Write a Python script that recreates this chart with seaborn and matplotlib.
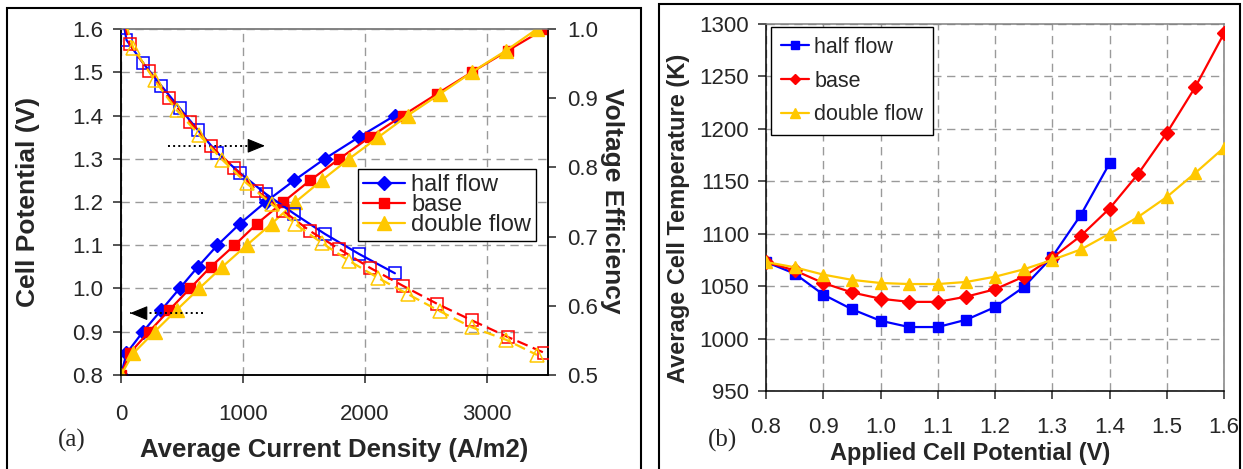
import matplotlib
matplotlib.use("Agg")
import matplotlib.pyplot as plt
from matplotlib.patches import Rectangle
import seaborn as sns
import pandas as pd

# ---------------- data ----------------
# Panel (a): cell potential (left axis) and voltage efficiency (right axis) vs current density
current_half = [0, 45, 180, 330, 480, 630, 790, 975, 1185, 1420, 1670, 1950, 2245]
potential_half = [0.80, 0.85, 0.90, 0.95, 1.00, 1.05, 1.10, 1.15, 1.20, 1.25, 1.30, 1.35, 1.40]
eff_half = [1.03, 0.984, 0.951, 0.918, 0.886, 0.854, 0.821, 0.792, 0.762, 0.733, 0.704, 0.675, 0.647]

current_base = [0, 70, 230, 395, 565, 735, 930, 1115, 1330, 1550, 1790, 2040, 2310, 2590, 2875, 3170, 3470]
potential_base = [0.80, 0.85, 0.90, 0.95, 1.00, 1.05, 1.10, 1.15, 1.20, 1.25, 1.30, 1.35, 1.40, 1.45, 1.50, 1.55, 1.60]
eff_base = [1.03, 0.978, 0.939, 0.900, 0.866, 0.831, 0.799, 0.766, 0.737, 0.708, 0.682, 0.655, 0.629, 0.603, 0.579, 0.555, 0.532]

current_double = [0, 100, 275, 455, 640, 830, 1030, 1235, 1430, 1645, 1870, 2110, 2350, 2615, 2875, 3155, 3410]
potential_double = [0.80, 0.85, 0.90, 0.95, 1.00, 1.05, 1.10, 1.15, 1.20, 1.25, 1.30, 1.35, 1.40, 1.45, 1.50, 1.55, 1.60]
eff_double = [1.03, 0.973, 0.926, 0.883, 0.847, 0.811, 0.777, 0.747, 0.718, 0.691, 0.665, 0.640, 0.617, 0.592, 0.569, 0.551, 0.529]

# Panel (b): average cell temperature vs applied cell potential
applied_half = [0.80, 0.85, 0.90, 0.95, 1.00, 1.05, 1.10, 1.15, 1.20, 1.25, 1.30, 1.35, 1.40]
temp_half = [1073, 1062, 1042, 1028, 1017, 1011, 1011, 1018, 1030, 1049, 1078, 1118, 1167]
applied_full = [0.80, 0.85, 0.90, 0.95, 1.00, 1.05, 1.10, 1.15, 1.20, 1.25, 1.30, 1.35, 1.40, 1.45, 1.50, 1.55, 1.60]
temp_base = [1073, 1065, 1053, 1044, 1038, 1035, 1035, 1040, 1047, 1059, 1077, 1098, 1124, 1157, 1196, 1240, 1291]
temp_double = [1073, 1068, 1061, 1056, 1053, 1052, 1052, 1054, 1059, 1066, 1075, 1085, 1100, 1116, 1135, 1158, 1182]

series_names = ["half flow", "base", "double flow"]
colors = ["#0000FF", "#FF0000", "#FFC800"]

# ---------------- style ----------------
sns.set_style("white")
plt.rcParams["font.family"] = ["Liberation Sans", "DejaVu Sans"]
plt.rcParams["axes.linewidth"] = 1.1

W, H = 1243, 469
fig = plt.figure(figsize=(W / 100, H / 100), dpi=100)


def fig_rect(l, t, r, b):
    return [l / W, 1 - b / H, (r - l) / W, (b - t) / H]


axA = fig.add_axes(fig_rect(121, 29, 548, 375))
axA2 = axA.twinx()
axB = fig.add_axes(fig_rect(766, 24, 1224, 391))

grid_kw = dict(color="#9a9a9a", linestyle=(0, (6, 4)), linewidth=1.0)
TICK_FS = 16

# ---------------- panel (a) ----------------
left_sets = [(current_half, potential_half, eff_half, "D", 7.5),
             (current_base, potential_base, eff_base, "s", 7.0),
             (current_double, potential_double, eff_double, "^", 9.5)]
eff_markers = ["s", "s", "^"]
eff_ms = [8.5, 8.5, 9.5]
eff_ls = ["-", (0, (5, 2.5)), (0, (5, 2.5))]

handles = []
for i, (cx, pv, ev, mk, ms) in enumerate(left_sets):
    df = pd.DataFrame({"current": cx, "potential": pv, "eff": ev})
    sns.lineplot(data=df, x="current", y="potential", ax=axA, sort=False, estimator=None,
                 color=colors[i], marker=mk, markersize=ms, markeredgecolor=colors[i],
                 markerfacecolor=colors[i], markeredgewidth=1, linewidth=1.6, zorder=3)
    handles.append(axA.lines[-1])
for i, (cx, pv, ev, mk, ms) in enumerate(left_sets):
    df = pd.DataFrame({"current": cx, "eff": ev})
    sns.lineplot(data=df, x="current", y="eff", ax=axA2, sort=False, estimator=None,
                 color=colors[i], marker=eff_markers[i], markersize=eff_ms[i],
                 markeredgecolor=colors[i], markerfacecolor="none", markeredgewidth=1.1,
                 linewidth=1.6, linestyle=eff_ls[i], zorder=3)

axA.set_xlim(0, 3500)
axA.set_ylim(0.8, 1.6)
axA2.set_ylim(0.5, 1.0)
axA.set_xticks([0, 1000, 2000, 3000])
axA.set_yticks([0.8, 0.9, 1.0, 1.1, 1.2, 1.3, 1.4, 1.5, 1.6])
axA.set_yticklabels([f"{v:.1f}" for v in axA.get_yticks()])
axA2.set_yticks([0.5, 0.6, 0.7, 0.8, 0.9, 1.0])
axA2.set_yticklabels([f"{v:.1f}" for v in axA2.get_yticks()])
axA.grid(True, **grid_kw)
axA.set_axisbelow(True)
axA.set_xlabel("")
axA.set_ylabel("")
axA2.set_ylabel("")
axA.tick_params(axis="y", direction="out", length=6, width=1.1, pad=7, labelsize=TICK_FS, left=True)
axA.tick_params(axis="x", direction="out", length=6, width=1.1, pad=15, labelsize=TICK_FS, bottom=True)
axA2.tick_params(axis="y", direction="out", length=6, width=1.1, pad=8, labelsize=TICK_FS, right=True)
for ax in (axA, axA2):
    ax.spines["top"].set_color("#808080")
    ax.spines["left"].set_color("black")
    ax.spines["bottom"].set_color("black")
    ax.spines["right"].set_color("black")

legA = axA2.legend(handles, series_names, loc="upper left", bbox_to_anchor=(0.555, 0.595),
                   fontsize=17, frameon=True, fancybox=False, edgecolor="black",
                   framealpha=1, labelspacing=-0.08, handlelength=1.8, handletextpad=0.25,
                   borderpad=0.2, borderaxespad=0)
legA.get_frame().set_linewidth(1.0)

# dotted arrows indicating which axis each family of curves uses
arrow_right = ((385, 1.330), (1180, 1.330))
arrow_left = ((672, 0.943), (74, 0.943))
for (x0, y0), (x1, y1) in (arrow_right, arrow_left):
    axA.plot([x0, x1], [y0, y1], color="black", linestyle=":", linewidth=1.4, zorder=4)
    axA.annotate("", xy=(x1, y1), xytext=(x1 - (x1 - x0) * 0.12, y1),
                 arrowprops=dict(arrowstyle="-|>,head_length=1.1,head_width=0.45",
                                 color="black", lw=0.8, shrinkA=0, shrinkB=0), zorder=5)

fig.text(28 / W, 1 - 202 / H, "Cell Potential (V)", rotation=90, ha="center", va="center",
         fontsize=19, fontweight="bold")
fig.text(612 / W, 1 - 201 / H, "Voltage Efficiency", rotation=270, ha="center", va="center",
         fontsize=19, fontweight="bold")
fig.text(334 / W, 1 - 457 / H, "Average Current Density (A/m2)", ha="center", va="baseline",
         fontsize=18.5, fontweight="bold")
fig.text(58 / W, 1 - 447 / H, "(a)", ha="left", va="baseline", fontsize=18,
         family=["Liberation Serif", "DejaVu Serif"])

# ---------------- panel (b) ----------------
right_sets = [(applied_half, temp_half, "s", 7.0),
              (applied_full, temp_base, "D", 7.0),
              (applied_full, temp_double, "^", 9.0)]
for i, (xv, tv, mk, ms) in enumerate(right_sets):
    df = pd.DataFrame({"potential": xv, "temperature": tv})
    sns.lineplot(data=df, x="potential", y="temperature", ax=axB, sort=False, estimator=None,
                 color=colors[i], marker=mk, markersize=ms, markeredgecolor=colors[i],
                 markerfacecolor=colors[i], markeredgewidth=1, linewidth=1.6,
                 label=series_names[i], zorder=3)

axB.set_xlim(0.8, 1.6)
axB.set_ylim(950, 1300)
axB.set_xticks([0.8, 0.9, 1.0, 1.1, 1.2, 1.3, 1.4, 1.5, 1.6])
axB.set_xticklabels([f"{v:.1f}" for v in axB.get_xticks()])
axB.set_yticks([950, 1000, 1050, 1100, 1150, 1200, 1250, 1300])
axB.grid(True, **grid_kw)
axB.set_axisbelow(True)
axB.set_xlabel("")
axB.set_ylabel("")
axB.tick_params(axis="y", direction="out", length=6, width=1.1, pad=6, labelsize=TICK_FS, left=True)
axB.tick_params(axis="x", direction="out", length=6, width=1.1, pad=13, labelsize=TICK_FS, bottom=True)
axB.spines["top"].set_color("#808080")
axB.spines["right"].set_color("#808080")
axB.spines["left"].set_color("black")
axB.spines["bottom"].set_color("black")

legB = axB.legend(loc="upper left", bbox_to_anchor=(0.011, 0.992), fontsize=15.5,
                  frameon=True, fancybox=False, edgecolor="black", framealpha=1,
                  labelspacing=0.6, handlelength=1.3, handletextpad=0.25, borderpad=0.45,
                  borderaxespad=0, markerscale=0.8)
legB.get_frame().set_linewidth(1.0)

fig.text(678 / W, 1 - 218 / H, "Average Cell Temperature (K)", rotation=90, ha="center",
         va="center", fontsize=17, fontweight="bold")
fig.text(970 / W, 1 - 460 / H, "Applied Cell Potential (V)", ha="center", va="baseline",
         fontsize=17, fontweight="bold")
fig.text(708 / W, 1 - 447 / H, "(b)", ha="left", va="baseline", fontsize=18,
         family=["Liberation Serif", "DejaVu Serif"])

# panel frames
fig.add_artist(Rectangle((7 / W, -0.05), (641 - 7) / W, 1.05 - 8 / H, transform=fig.transFigure,
                         fill=False, edgecolor="black", linewidth=1.5))
fig.add_artist(Rectangle((659 / W, -0.05), (1240 - 659) / W, 1.05 - 4 / H, transform=fig.transFigure,
                         fill=False, edgecolor="black", linewidth=1.5))

fig.savefig("out.png", dpi=100)
